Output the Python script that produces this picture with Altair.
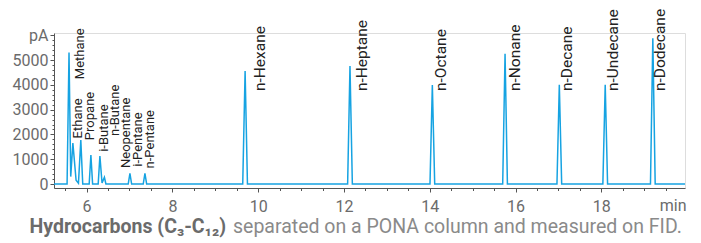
import altair as alt
import pandas as pd

# ---- chromatogram trace (retention time in min, signal in pA) ----
trace_time = [5.24, 5.545, 5.59, 5.63, 5.68, 5.755, 5.81, 5.865, 5.91,
              6.06, 6.10, 6.14, 6.27, 6.31, 6.36, 6.415, 6.45,
              6.97, 7.01, 7.05, 7.32, 7.36, 7.40,
              9.64, 9.695, 9.75, 12.085, 12.14, 12.195, 14.005, 14.06, 14.115,
              15.70, 15.755, 15.81, 16.965, 17.02, 17.075, 18.035, 18.09, 18.145,
              19.145, 19.20, 19.255, 19.95]
trace_signal = [0, 0, 5300, 300, 1650, 150, 30, 1770, 0,
                0, 1170, 0, 0, 1130, 40, 270, 0,
                0, 430, 0, 0, 430, 0,
                0, 4560, 0, 0, 4760, 0, 0, 3990, 0,
                0, 5250, 0, 0, 4000, 0, 0, 4000, 0,
                0, 5880, 0, 0]

# ---- peak labels (early, small) ----
small_names = ["Methane", "Ethane", "Propane", "i-Butane", "n-Butane",
               "Neopentane", "i-Pentane", "n-Pentane"]
small_time = [5.71, 5.67, 5.93, 6.27, 6.53, 6.78, 7.06, 7.34]
small_signal = [4230, 1840, 1770, 1300, 1935, 645, 700, 630]

# ---- peak labels (n-alkanes, large) ----
big_names = ["n-Hexane", "n-Heptane", "n-Octane", "n-Nonane", "n-Decane",
             "n-Undecane", "n-Dodecane"]
big_time = [9.88, 12.25, 14.11, 15.83, 17.04, 18.10, 19.21]
big_signal = [3750, 3750, 3750, 3750, 3750, 3750, 3750]

caption_bold = "Hydrocarbons (C\u2083-C\u2081\u2082)"
caption_rest = "separated on a PONA column and measured on FID."

x_ticks = [5.5 + 0.5 * i for i in range(29)]
y_ticks = [200 * i for i in range(31)]

FONT = "Roboto"
AXIS_GREY = "#555555"
LABEL_GREY = "#6b6b6b"
LINE_BLUE = "#16a3e2"

trace_df = pd.DataFrame({"time": trace_time, "signal": trace_signal})
small_df = pd.DataFrame({"name": small_names, "time": small_time, "signal": small_signal})
big_df = pd.DataFrame({"name": big_names, "time": big_time, "signal": big_signal})

x_scale = alt.Scale(domain=[5.24, 19.95], nice=False, zero=False)
y_scale = alt.Scale(domain=[-160, 6090], nice=False, zero=False)

x_axis = alt.Axis(
    values=x_ticks,
    labelExpr="datum.value % 2 === 0 ? format(datum.value, '.0f') : ''",
    tickSize={"condition": {"test": "datum.value % 2 === 0", "value": 4}, "value": 2.5},
    labelFontSize=16, labelFont=FONT, labelColor=LABEL_GREY, labelPadding=6,
    labelOverlap=False, labelFlush=False,
    domainColor=AXIS_GREY, tickColor=AXIS_GREY, grid=False,
    title="min", titleFont=FONT, titleFontSize=16, titleFontWeight="normal",
    titleColor=LABEL_GREY, titleX=632, titleY=22, titleAlign="right",
    titleBaseline="alphabetic",
)
y_axis = alt.Axis(
    values=y_ticks, format="d",
    labelExpr="datum.value === 6000 ? 'pA' : (datum.value % 1000 === 0 ? datum.label : '')",
    tickSize={"condition": {"test": "datum.value % 1000 === 0", "value": 4}, "value": 2},
    labelFontSize=16, labelFont=FONT, labelColor=LABEL_GREY, labelPadding=2,
    labelOverlap=False, labelFlush=False,
    domainColor=AXIS_GREY, tickColor=AXIS_GREY, grid=False, title=None,
)

X = alt.X("time:Q", scale=x_scale, axis=x_axis)
Y = alt.Y("signal:Q", scale=y_scale, axis=y_axis)

line = alt.Chart(trace_df).mark_line(color=LINE_BLUE, strokeWidth=1.5).encode(x=X, y=Y)

small_text = alt.Chart(small_df).mark_text(
    angle=270, align="left", baseline="top", font=FONT, fontSize=13, color="#222222"
).encode(x=X, y=Y, text="name:N")

big_text = alt.Chart(big_df).mark_text(
    angle=270, align="left", baseline="top", font=FONT, fontSize=15.5, color="#222222"
).encode(x=X, y=Y, text="name:N")

cap1 = alt.Chart(pd.DataFrame({"t": [caption_bold]})).mark_text(
    align="right", baseline="alphabetic", font=FONT, fontSize=19.5, fontWeight="bold",
    color="#6b6b6b"
).encode(x=alt.value(172), y=alt.value(200), text="t:N")

cap2 = alt.Chart(pd.DataFrame({"t": [caption_rest]})).mark_text(
    align="left", baseline="alphabetic", font=FONT, fontSize=19.5, fontWeight="normal",
    color="#8a8a8a"
).encode(x=alt.value(179), y=alt.value(200), text="t:N")

chart = alt.layer(line, small_text, big_text, cap1, cap2).properties(
    width=631, height=155,
    autosize=alt.AutoSizeParams(type="none"),
    padding={"left": 46, "top": 25, "right": 8, "bottom": 53},
).configure_view(stroke=None).configure(background="white").configure_axis(
    labelOverlap=False
)

chart.save("out.html", embed_options={"renderer": "svg", "actions": False})
